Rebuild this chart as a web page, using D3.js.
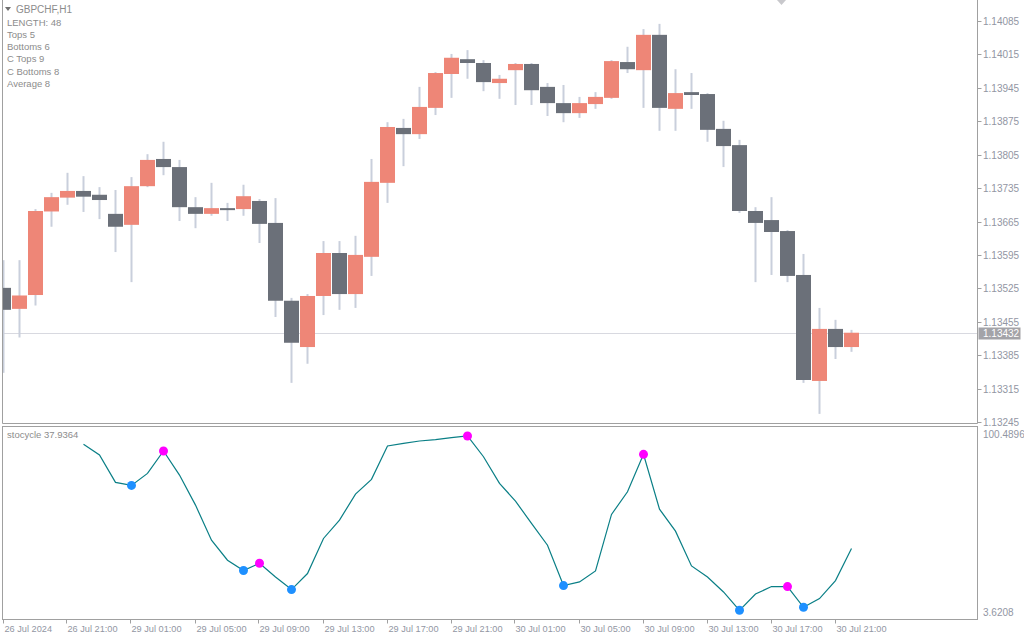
<!DOCTYPE html>
<html>
<head>
<meta charset="utf-8">
<script src="https://cdn.jsdelivr.net/npm/d3@7"></script>
<style>
  html, body { margin: 0; padding: 0; background: #ffffff; }
  svg { display: block; }
  text { font-family: "Liberation Sans", Arial, sans-serif; }
</style>
</head>
<body>
<svg id="chart" width="1024" height="640"></svg>
<script>
// ---------- DATA ----------
const symbolLabel = "GBPCHF,H1";
const legendLines = ["LENGTH: 48", "Tops 5", "Bottoms 6", "C Tops 9", "C Bottoms 8", "Average 8"];
const opens  = [1.13526,1.13482,1.13511,1.13686,1.13715,1.13729,1.13721,1.13681,1.13658,1.13739,
                1.13796,1.13779,1.13695,1.13681,1.13693,1.13691,1.13708,1.13662,1.13499,1.13402,
                1.13509,1.13599,1.13513,1.13591,1.13746,1.13861,1.13848,1.13903,1.13974,1.14005,
                1.13997,1.13955,1.13982,1.13995,1.13947,1.13913,1.13892,1.13911,1.13924,1.13999,
                1.13982,1.14056,1.13901,1.13936,1.13932,1.13859,1.13825,1.13687,1.13668,1.13645,
                1.13553,1.13331,1.13440,1.13402];
const highs  = [1.13584,1.13584,1.13691,1.13725,1.13767,1.13760,1.13737,1.13731,1.13758,1.13806,
                1.13832,1.13794,1.13716,1.13746,1.13704,1.13742,1.13712,1.13714,1.13505,1.13513,
                1.13624,1.13624,1.13635,1.13796,1.13873,1.13880,1.13947,1.13978,1.14016,1.14024,
                1.14003,1.13972,1.13997,1.13997,1.13955,1.13951,1.13926,1.13936,1.14003,1.14031,
                1.14068,1.14079,1.13984,1.13976,1.13934,1.13876,1.13836,1.13695,1.13716,1.13647,
                1.13597,1.13484,1.13459,1.13438];
const lows   = [1.13348,1.13422,1.13489,1.13654,1.13700,1.13685,1.13670,1.13601,1.13538,1.13737,
                1.13762,1.13666,1.13651,1.13677,1.13666,1.13677,1.13620,1.13465,1.13327,1.13367,
                1.13469,1.13480,1.13484,1.13551,1.13704,1.13781,1.13838,1.13888,1.13924,1.13964,
                1.13938,1.13922,1.13909,1.13909,1.13886,1.13873,1.13882,1.13901,1.13922,1.13976,
                1.13903,1.13855,1.13855,1.13901,1.13832,1.13779,1.13683,1.13538,1.13553,1.13538,
                1.13327,1.13262,1.13377,1.13392];
const closes = [1.13480,1.13510,1.13687,1.13716,1.13729,1.13717,1.13710,1.13654,1.13739,1.13794,
                1.13779,1.13695,1.13681,1.13693,1.13689,1.13718,1.13660,1.13499,1.13411,1.13509,
                1.13599,1.13513,1.13595,1.13748,1.13863,1.13848,1.13905,1.13976,1.14008,1.13997,
                1.13957,1.13964,1.13995,1.13940,1.13913,1.13892,1.13913,1.13926,1.14001,1.13984,
                1.14056,1.13903,1.13934,1.13930,1.13857,1.13823,1.13687,1.13662,1.13643,1.13551,
                1.13333,1.13440,1.13402,1.13432];
const timeLabels = ["26 Jul 2024","26 Jul 21:00","29 Jul 01:00","29 Jul 05:00","29 Jul 09:00",
                    "29 Jul 13:00","29 Jul 17:00","29 Jul 21:00","30 Jul 01:00","30 Jul 05:00",
                    "30 Jul 09:00","30 Jul 13:00","30 Jul 17:00","30 Jul 21:00"];
const timeLabelIdx = [0,4,8,12,16,20,24,28,32,36,40,44,48,52];
const priceTicks = [1.14085,1.14015,1.13945,1.13875,1.13805,1.13735,1.13665,1.13595,1.13525,1.13455,1.13385,1.13315,1.13245];
const currentPrice = 1.13432;
// stocycle indicator (starts at bar 5)
const cycleStart = 5;
const cycleValues = [95.87,89.91,74.71,73.04,79.72,92.14,78.78,62.08,42.59,31.46,
                     25.72,29.79,22.16,15.14,24.05,43.54,53.73,68.20,76.38,94.92,
                     96.43,97.71,98.43,99.54,100.4896,88.97,74.16,64.30,51.89,39.81,
                     17.37,19.38,25.50,56.90,69.48,90.30,59.85,47.60,28.28,22.16,
                     13.81,3.6208,12.69,16.81,16.81,5.29,10.13,20.16,37.9364];
const cycleMax = 100.4896, cycleMin = 3.6208;
const topsIdx = [10,16,29,40,49];
const bottomsIdx = [8,15,18,35,46,50];

// ---------- LAYOUT ----------
const svg = d3.select("#chart");
const L = 2.5, R = 977.5, mainBottom = 423.5, indTop = 426.5, indBottom = 619.5;
const bullColor = "#ee8677", bearColor = "#6b7079", wickColor = "#c9cfdc";
const axisText = "#9296a3", frame = "#a0a0a0", legendText = "#8c8c8c";

const candles = opens.map((o,i)=>({i, o, h:highs[i], l:lows[i], c:closes[i]}));
const x = d3.scaleLinear().domain([0, 53]).range([3.5, 851.5]);
const y = d3.scaleLinear().domain([1.13245, 1.14085]).range([422, 21]);
const yi = d3.scaleLinear().domain([cycleMin, cycleMax]).range([610.3, 436]);

const defs = svg.append("defs");
defs.append("clipPath").attr("id","mainClip").append("rect")
  .attr("x", L+0.5).attr("y", 0).attr("width", R-L-1).attr("height", mainBottom);
defs.append("clipPath").attr("id","indClip").append("rect")
  .attr("x", L+0.5).attr("y", indTop+0.5).attr("width", R-L-1).attr("height", indBottom-indTop-1);

// current price line
const cy = Math.round(y(currentPrice))+0.5;
svg.append("line").attr("x1", L).attr("x2", R).attr("y1", cy).attr("y2", cy)
  .attr("stroke", "#d8d9e0").attr("stroke-width", 1);

// candles
const gC = svg.append("g").attr("clip-path","url(#mainClip)");
gC.selectAll("rect.wick").data(candles).join("rect").attr("class","wick")
  .attr("x", d=>x(d.i)-1).attr("width", 2)
  .attr("y", d=>y(d.h)).attr("height", d=>Math.max(1, y(d.l)-y(d.h)))
  .attr("fill", wickColor);
gC.selectAll("rect.body").data(candles).join("rect").attr("class","body")
  .attr("x", d=>x(d.i)-7.5).attr("width", 15)
  .attr("y", d=>y(Math.max(d.o,d.c)))
  .attr("height", d=>Math.max(2, Math.abs(y(d.o)-y(d.c))))
  .attr("fill", d=> d.c >= d.o ? bullColor : bearColor);

// frames
svg.append("path").attr("d", `M${L},0 V${mainBottom} H${R} V0`).attr("fill","none").attr("stroke", frame);
svg.append("rect").attr("x", L).attr("y", indTop).attr("width", R-L).attr("height", indBottom-indTop)
  .attr("fill","none").attr("stroke", frame);

// price axis
const gP = svg.append("g");
priceTicks.forEach(p=>{
  const yy = Math.round(y(p))+0.5;
  gP.append("line").attr("x1", R).attr("x2", R+4).attr("y1", yy).attr("y2", yy).attr("stroke", frame);
  gP.append("text").attr("x", 983).attr("y", yy).attr("dy","0.35em").attr("font-size", 10)
    .attr("fill", axisText).text(p.toFixed(5));
});
// current price box
svg.append("rect").attr("x", R+1).attr("y", cy-6).attr("width", 42).attr("height", 12).attr("fill", "#a3a3a8");
svg.append("text").attr("x", 983).attr("y", cy).attr("dy","0.35em").attr("font-size", 10)
  .attr("fill", "#ffffff").text(currentPrice.toFixed(5));

// time axis
const gT = svg.append("g");
timeLabelIdx.forEach((idx,k)=>{
  const xx = Math.round(x(idx)) - 0.5;
  gT.append("line").attr("x1", xx).attr("x2", xx).attr("y1", indBottom).attr("y2", indBottom+4).attr("stroke", frame);
  gT.append("text").attr("x", xx+1).attr("y", 629).attr("dy","0.35em").attr("font-size", 9.2)
    .attr("fill", axisText).text(timeLabels[k]);
});

// indicator
const cyc = cycleValues.map((v,k)=>({i: k+cycleStart, v}));
const gI = svg.append("g").attr("clip-path","url(#indClip)");
gI.append("path").datum(cyc)
  .attr("d", d3.line().x(d=>x(d.i)).y(d=>yi(d.v)))
  .attr("fill","none").attr("stroke","#0a7f86").attr("stroke-width",1.2);
const byIdx = new Map(cyc.map(d=>[d.i,d]));
gI.selectAll("circle.top").data(topsIdx.map(i=>byIdx.get(i))).join("circle").attr("class","top")
  .attr("cx", d=>x(d.i)).attr("cy", d=>yi(d.v)).attr("r", 4.5).attr("fill", "#ff00ff");
gI.selectAll("circle.bot").data(bottomsIdx.map(i=>byIdx.get(i))).join("circle").attr("class","bot")
  .attr("cx", d=>x(d.i)).attr("cy", d=>yi(d.v)).attr("r", 4.5).attr("fill", "#1e90ff");

// indicator scale labels
svg.append("text").attr("x", 983).attr("y", 434).attr("dy","0.35em").attr("font-size", 10)
  .attr("fill", axisText).text(cycleMax.toFixed(4));
svg.append("text").attr("x", 983).attr("y", 612).attr("dy","0.35em").attr("font-size", 10)
  .attr("fill", axisText).text(cycleMin.toFixed(4));
svg.append("text").attr("x", 7).attr("y", 435).attr("dy","0.35em").attr("font-size", 9.5)
  .attr("fill", legendText).text("stocycle " + cycleValues[cycleValues.length-1].toFixed(4));

// legend
svg.append("path").attr("d","M5,7 L11,7 L8,11 Z").attr("fill","#707070");
svg.append("text").attr("x", 16).attr("y", 9.5).attr("dy","0.35em").attr("font-size", 10)
  .attr("fill", legendText).text(symbolLabel);
legendLines.forEach((t,k)=>{
  svg.append("text").attr("x", 7).attr("y", 22.5 + k*12.2).attr("dy","0.35em").attr("font-size", 9.5)
    .attr("fill", legendText).text(t);
});
// shift marker
svg.append("path").attr("d","M777,0 L786,0 L781.5,5 Z").attr("fill","#c8c8cc");
</script>
</body>
</html>
